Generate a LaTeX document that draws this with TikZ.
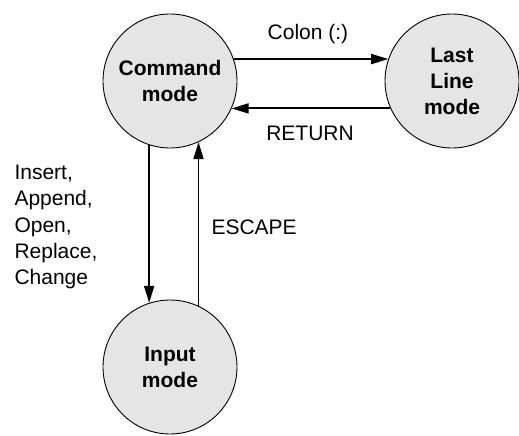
\documentclass[tikz,border=0pt]{standalone}
\usepackage{fontspec}
\setmainfont{Liberation Sans}
\usetikzlibrary{arrows.meta}
\definecolor{modegray}{gray}{0.9}
\tikzset{
	mode/.style={circle, draw, line width=0.9pt, fill=modegray, minimum size=134pt, inner sep=0pt, align=center, font=\bfseries\fontsize{21}{26}\selectfont},
	trans/.style={line width=1.9pt, -{Triangle[length=17pt,width=10pt]}},
	lbl/.style={font=\fontsize{21}{26.3}\selectfont, align=left}
}
\begin{document}
\begin{tikzpicture}[x=1pt,y=-1pt]
				\useasboundingbox (0,0) rectangle (519,436);
				
				\node[mode] (cmd) at (170,81) {Command\\mode};
				\node[mode] (last) at (452,81) {Last\\Line\\mode};
				\node[mode] (inp) at (170,367) {Input\\mode};
				
				\draw[trans] (cmd.19) -- (last.161);
				\draw[trans] (last.204) -- (cmd.-24);
				\draw[trans] (cmd.252) -- (inp.108);
				\draw[trans] (inp.65) -- (cmd.295);
				
				\node[lbl] (colon) at (308,34) {Colon (:)};
				\node[lbl] (ret) at (310,133) {RETURN};
				\node[lbl, anchor=west] (ins) at (11,227) {Insert,\\Append,\\Open,\\Replace,\\Change};
				\node[lbl, anchor=west] (esc) at (208,227) {ESCAPE};
\end{tikzpicture}
\end{document}
